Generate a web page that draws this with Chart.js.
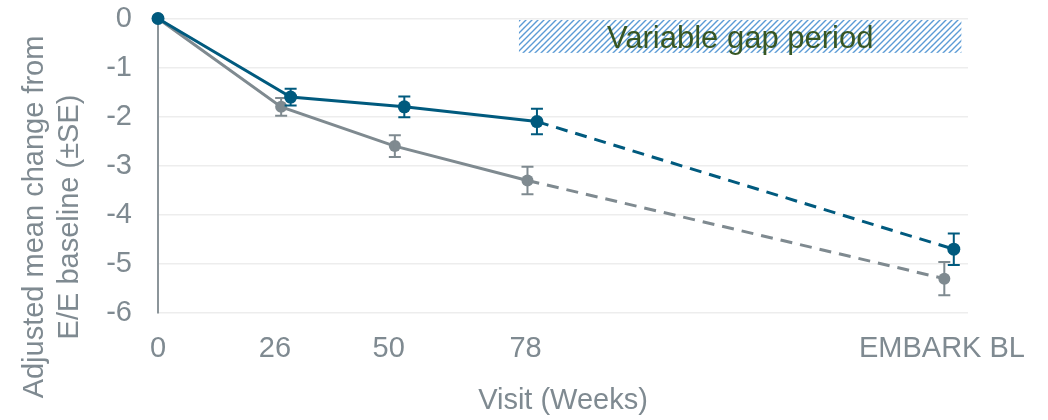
<!DOCTYPE html>
<html>
<head>
<meta charset="utf-8">
<script src="https://cdn.jsdelivr.net/npm/chart.js@4.4.1/dist/chart.umd.min.js"></script>
<style>
  html, body { margin: 0; padding: 0; background: #ffffff; }
  #wrap { width: 1048px; height: 420px; }
</style>
</head>
<body>
<div id="wrap"><canvas id="chart" width="1048" height="420"></canvas></div>
<script>
// Visit ticks (weeks) and their labels
const tickWeeks = [0, 24.7, 48.7, 77.6, 165.5];
const tickLabels = ['0', '26', '50', '78', 'EMBARK BL'];

// Series A (blue) – plotted slightly right of each visit
const blueWeeks = [0, 28, 52, 80, 168];
const blueMean = [0, -1.6, -1.8, -2.1, -4.7];
const blueSE = [0, 0.17, 0.21, 0.26, 0.32];

// Series B (grey)
const greyWeeks = [0, 26, 50, 78, 166];
const greyMean = [0, -1.8, -2.6, -3.3, -5.3];
const greySE = [0, 0.18, 0.22, 0.28, 0.34];

const yTitleLines = ['Adjusted mean change from', 'E/E baseline (\u00b1SE)'];
const xTitle = 'Visit (Weeks)';

// Shaded window marking the gap between studies
const gapPeriod = { fromWeek: 76.2, toWeek: 169.6, top: -0.03, bottom: -0.70, label: 'Variable gap period' };

const BLUE = '#005A7E';
const GREY = '#7F8A90';
const TEXT = '#7F8A91';
const FONT = "'Liberation Sans', Arial, sans-serif";

function toPoints(xs, ys) { return xs.map((x, i) => ({ x: x, y: ys[i] })); }

// Thin upward-diagonal hatch tile
function hatchPattern(ctx) {
  const n = 6;
  const tile = document.createElement('canvas');
  tile.width = n; tile.height = n;
  const t = tile.getContext('2d');
  t.strokeStyle = '#5B9BD5';
  t.lineWidth = 1.4;
  t.beginPath();
  t.moveTo(-1, n + 1); t.lineTo(n + 1, -1);
  t.moveTo(-1, 1); t.lineTo(1, -1);
  t.moveTo(n - 1, n + 1); t.lineTo(n + 1, n - 1);
  t.stroke();
  return ctx.createPattern(tile, 'repeat');
}

const gapPlugin = {
  id: 'gapPeriod',
  beforeDatasetsDraw(chart) {
    const { ctx, scales: { x, y } } = chart;
    const x0 = x.getPixelForValue(gapPeriod.fromWeek);
    const x1 = x.getPixelForValue(gapPeriod.toWeek);
    const y0 = y.getPixelForValue(gapPeriod.top);
    const y1 = y.getPixelForValue(gapPeriod.bottom);
    ctx.save();
    ctx.fillStyle = hatchPattern(ctx);
    ctx.fillRect(x0, y0, x1 - x0, y1 - y0);
    ctx.fillStyle = '#375623';
    ctx.font = '31px ' + FONT;
    ctx.textAlign = 'center';
    ctx.textBaseline = 'alphabetic';
    ctx.fillText(gapPeriod.label, (x0 + x1) / 2, y0 + 28);
    ctx.restore();
  }
};

const errorBarPlugin = {
  id: 'errorBars',
  afterDatasetDraw(chart, args) {
    const ds = chart.data.datasets[args.index];
    if (!ds.se) return;
    const { ctx, scales: { x, y } } = chart;
    ctx.save();
    ctx.strokeStyle = ds.borderColor;
    ctx.lineWidth = 2;
    ds.data.forEach((p, i) => {
      const e = ds.se[i];
      if (!e) return;
      const px = x.getPixelForValue(p.x);
      const top = y.getPixelForValue(p.y + e);
      const bot = y.getPixelForValue(p.y - e);
      ctx.beginPath();
      ctx.moveTo(px, top); ctx.lineTo(px, bot);
      ctx.moveTo(px - 6, top); ctx.lineTo(px + 6, top);
      ctx.moveTo(px - 6, bot); ctx.lineTo(px + 6, bot);
      ctx.stroke();
    });
    ctx.restore();
  }
};

const yTitlePlugin = {
  id: 'yTitle',
  afterDraw(chart) {
    const { ctx } = chart;
    ctx.save();
    ctx.fillStyle = TEXT;
    ctx.font = '29px ' + FONT;
    ctx.textAlign = 'center';
    ctx.textBaseline = 'middle';
    const centers = [35, 70];
    yTitleLines.forEach((line, i) => {
      ctx.save();
      ctx.translate(centers[i], 217);
      ctx.rotate(-Math.PI / 2);
      ctx.fillText(line, 0, 0);
      ctx.restore();
    });
    ctx.restore();
  }
};

const dashAfterLastVisit = (c) => (c.p0DataIndex >= 3 ? [12, 8] : undefined);

new Chart(document.getElementById('chart'), {
  type: 'line',
  data: {
    datasets: [
      {
        label: 'Series A',
        data: toPoints(blueWeeks, blueMean),
        se: blueSE,
        borderColor: BLUE,
        backgroundColor: BLUE,
        borderWidth: 3,
        pointRadius: 6.5,
        pointBorderWidth: 0,
        tension: 0,
        clip: false,
        segment: { borderDash: dashAfterLastVisit }
      },
      {
        label: 'Series B',
        data: toPoints(greyWeeks, greyMean),
        se: greySE,
        borderColor: GREY,
        backgroundColor: GREY,
        borderWidth: 3,
        pointRadius: 6,
        pointBorderWidth: 0,
        tension: 0,
        clip: false,
        segment: { borderDash: dashAfterLastVisit }
      }
    ]
  },
  options: {
    responsive: false,
    animation: false,
    devicePixelRatio: 1,
    layout: { padding: { left: 0, right: 80, top: 18.5, bottom: 0 } },
    plugins: { legend: { display: false }, tooltip: { enabled: false } },
    scales: {
      x: {
        type: 'linear',
        min: 0,
        max: 171,
        afterBuildTicks: (s) => { s.ticks = tickWeeks.map(v => ({ value: v })); },
        afterFit: (s) => { s.height = 107; s.paddingLeft = 0; s.paddingRight = 0; },
        ticks: {
          autoSkip: false,
          maxRotation: 0,
          padding: 19,
          color: TEXT,
          font: { family: FONT, size: 29 },
          callback: (v, i) => tickLabels[i]
        },
        grid: { display: false, drawTicks: false },
        border: { display: false },
        title: {
          display: true,
          text: xTitle,
          color: TEXT,
          font: { family: FONT, size: 29 },
          padding: { top: 0, bottom: 2 }
        }
      },
      y: {
        min: -6,
        max: 0,
        afterFit: (s) => { s.width = 158; s.paddingTop = 0; s.paddingBottom = 0; },
        ticks: {
          stepSize: 1,
          padding: 26,
          color: TEXT,
          font: { family: FONT, size: 29 }
        },
        grid: { color: '#EDEDED', lineWidth: 1.5, drawTicks: false },
        border: { display: true, color: '#8C959A', width: 2 }
      }
    }
  },
  plugins: [gapPlugin, errorBarPlugin, yTitlePlugin]
});
</script>
</body>
</html>
